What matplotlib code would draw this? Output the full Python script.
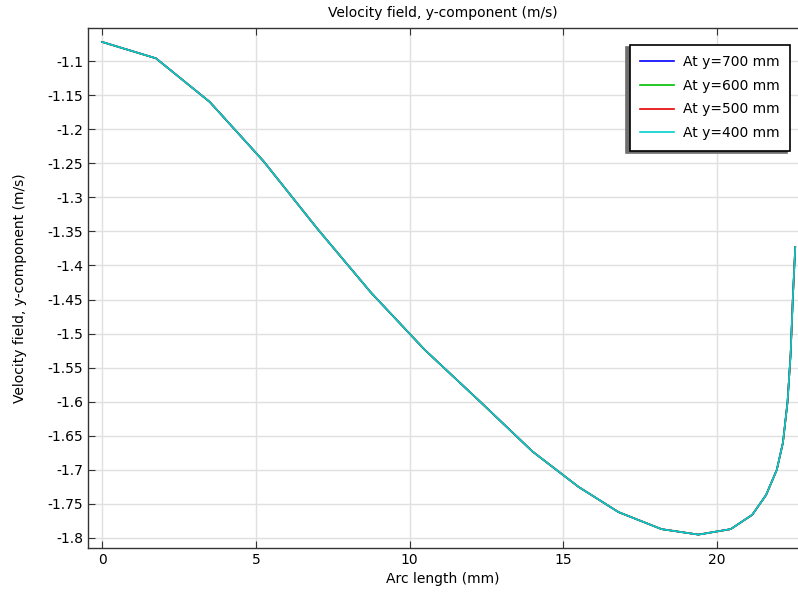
import matplotlib
matplotlib.use('Agg')
import matplotlib.pyplot as plt
from matplotlib.ticker import MultipleLocator, FuncFormatter

plt.rcParams['font.family'] = 'DejaVu Sans'
plt.rcParams['axes.unicode_minus'] = False

# arc length along the cut line (mm) and y-velocity (m/s)
arc = [0, 1.75, 3.5, 5.25, 7.0, 8.75, 10.5, 12.3, 14.0, 15.5, 16.8, 18.2,
       19.4, 20.45, 21.15, 21.6, 21.95, 22.15, 22.3, 22.4, 22.47, 22.55]
v_y = [-1.072, -1.096, -1.160, -1.247, -1.346, -1.440, -1.524, -1.600, -1.673,
       -1.725, -1.762, -1.787, -1.795, -1.787, -1.766, -1.737, -1.700, -1.660,
       -1.600, -1.530, -1.450, -1.373]

labels = ['At y=700 mm', 'At y=600 mm', 'At y=500 mm', 'At y=400 mm']
colors = ['#0000ff', '#00bf00', '#e60000', '#00d0d0']

fig = plt.figure(figsize=(7.98, 5.92), dpi=100)
ax = fig.add_axes([0.1103, 0.0743, 0.8897, 0.8784])

# all four cut lines give the same profile
for lab, c in zip(labels, colors):
    ax.plot(arc, v_y, color=c, lw=1.2, label=lab)

ax.set_xlim(-0.46, 22.64)
ax.set_ylim(-1.8147, -1.0515)
ax.xaxis.set_major_locator(MultipleLocator(5))
ax.yaxis.set_major_locator(MultipleLocator(0.05))
ax.yaxis.set_major_formatter(FuncFormatter(lambda v, p: '%g' % round(v, 2)))
ax.tick_params(direction='in', top=True, right=False, labelsize=10, length=5,
               color='#333333')
ax.grid(True, color='#e0e0e0', lw=1)
ax.set_axisbelow(True)
ax.spines['right'].set_visible(False)
for s in ax.spines.values():
    s.set_linewidth(1)
    s.set_color('#333333')

ax.set_title('Velocity field, y-component (m/s)', fontsize=10, pad=8.2)
ax.set_xlabel('Arc length (mm)', fontsize=10, labelpad=4)
ax.set_ylabel('Velocity field, y-component (m/s)', fontsize=10, labelpad=15)

leg = ax.legend(loc='upper right', bbox_to_anchor=(0.999, 0.9815), fontsize=10,
                fancybox=False,
                shadow={'color': '#6e6e6e', 'alpha': 1, 'ox': -2.5, 'oy': -2},
                framealpha=1, edgecolor='black', borderpad=0.75,
                handlelength=2.45, handletextpad=0.65, labelspacing=0.7,
                borderaxespad=0.5)
leg.get_frame().set_linewidth(1.2)

fig.savefig('out.png', dpi=100)
